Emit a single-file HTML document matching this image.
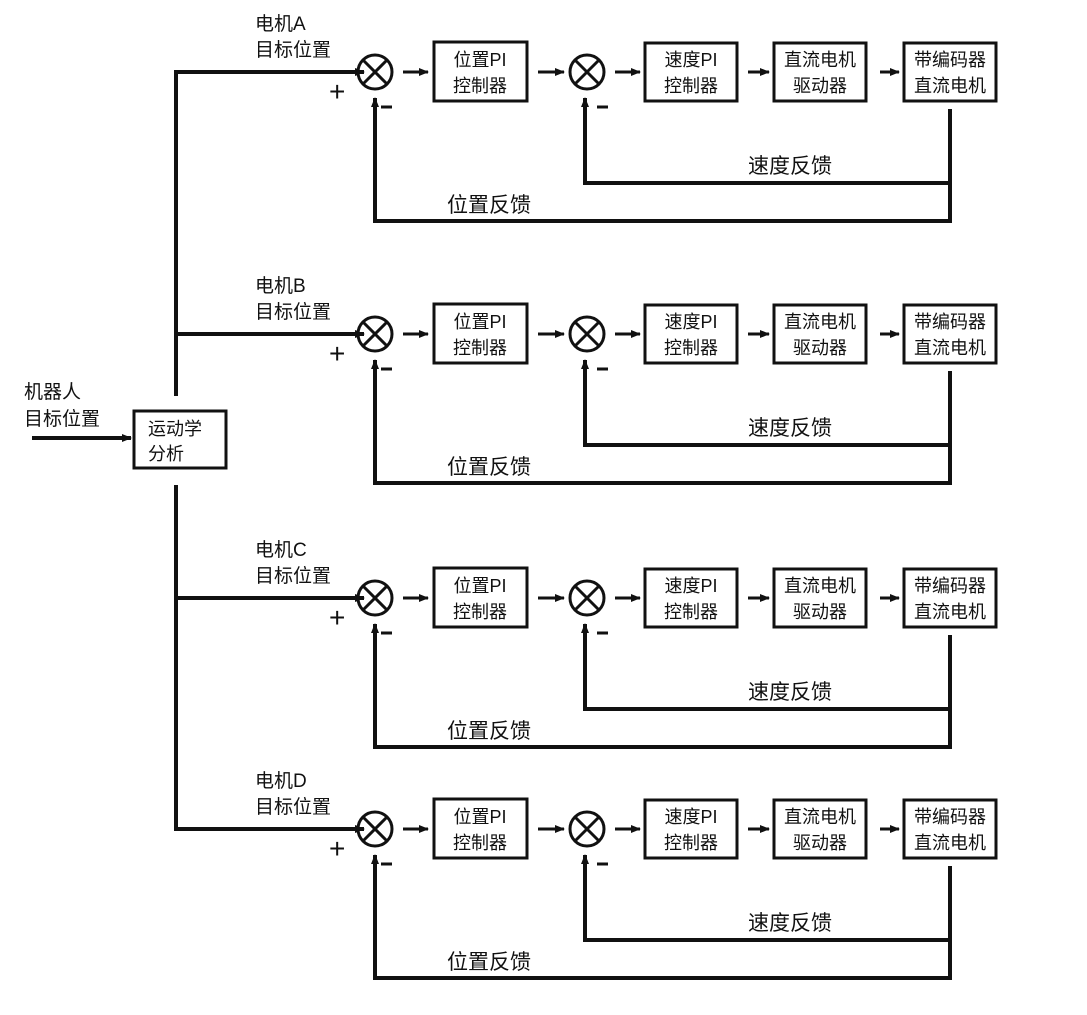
<!DOCTYPE html>
<html><head><meta charset="utf-8"><style>
body{margin:0;background:#fff}
text{font-family:"Liberation Sans","Noto Sans CJK SC",sans-serif;fill:#111}
</style></head><body>
<svg width="1087" height="1010" viewBox="0 0 1087 1010" xmlns="http://www.w3.org/2000/svg">
<defs>
<marker id="ah" markerWidth="10" markerHeight="8" refX="9" refY="4" orient="auto" markerUnits="userSpaceOnUse">
<path d="M0,0 L10,4 L0,8 z" fill="#111"/>
</marker>
<g id="row">
  <line x1="176" y1="0" x2="364" y2="0" stroke="#111" stroke-width="4" marker-end="url(#ah)"/>
  <circle cx="375" cy="0" r="17" fill="none" stroke="#111" stroke-width="3"/>
  <line x1="363" y1="-12" x2="387" y2="12" stroke="#111" stroke-width="3"/>
  <line x1="387" y1="-12" x2="363" y2="12" stroke="#111" stroke-width="3"/>
  <text x="329" y="29" font-size="28">+</text>
  <line x1="381" y1="35" x2="392" y2="35" stroke="#111" stroke-width="3"/>
  <line x1="403" y1="0" x2="428" y2="0" stroke="#111" stroke-width="3" marker-end="url(#ah)"/>
  <rect x="434" y="-30" width="93" height="59" fill="#fff" stroke="#111" stroke-width="3"/>
  <text x="480" y="-6" font-size="18" text-anchor="middle">位置PI</text>
  <text x="480" y="20" font-size="18" text-anchor="middle">控制器</text>
  <line x1="538" y1="0" x2="564" y2="0" stroke="#111" stroke-width="3" marker-end="url(#ah)"/>
  <circle cx="587" cy="0" r="17" fill="none" stroke="#111" stroke-width="3"/>
  <line x1="575" y1="-12" x2="599" y2="12" stroke="#111" stroke-width="3"/>
  <line x1="599" y1="-12" x2="575" y2="12" stroke="#111" stroke-width="3"/>
  <line x1="597" y1="35" x2="608" y2="35" stroke="#111" stroke-width="3"/>
  <line x1="615" y1="0" x2="640" y2="0" stroke="#111" stroke-width="3" marker-end="url(#ah)"/>
  <rect x="645" y="-29" width="92" height="58" fill="#fff" stroke="#111" stroke-width="3"/>
  <text x="691" y="-6" font-size="18" text-anchor="middle">速度PI</text>
  <text x="691" y="20" font-size="18" text-anchor="middle">控制器</text>
  <line x1="748" y1="0" x2="769" y2="0" stroke="#111" stroke-width="3" marker-end="url(#ah)"/>
  <rect x="774" y="-29" width="92" height="58" fill="#fff" stroke="#111" stroke-width="3"/>
  <text x="820" y="-6" font-size="18" text-anchor="middle">直流电机</text>
  <text x="820" y="20" font-size="18" text-anchor="middle">驱动器</text>
  <line x1="880" y1="0" x2="899" y2="0" stroke="#111" stroke-width="3" marker-end="url(#ah)"/>
  <rect x="904" y="-29" width="92" height="58" fill="#fff" stroke="#111" stroke-width="3"/>
  <text x="950" y="-6" font-size="18" text-anchor="middle">带编码器</text>
  <text x="950" y="20" font-size="18" text-anchor="middle">直流电机</text>
  <polyline points="950,37 950,149 375,149 375,26" fill="none" stroke="#111" stroke-width="4" marker-end="url(#ah)"/>
  <polyline points="950,111 585,111 585,26" fill="none" stroke="#111" stroke-width="4" marker-end="url(#ah)"/>
  <text x="790" y="101" font-size="21" text-anchor="middle">速度反馈</text>
  <text x="489" y="140" font-size="21" text-anchor="middle">位置反馈</text>
  <text x="255" y="-16" font-size="19">目标位置</text>
</g>
</defs>
<use href="#row" transform="translate(0,72)"/>
<use href="#row" transform="translate(0,334)"/>
<use href="#row" transform="translate(0,598)"/>
<use href="#row" transform="translate(0,829)"/>
<text x="255" y="30" font-size="19">电机A</text>
<text x="255" y="292" font-size="19">电机B</text>
<text x="255" y="556" font-size="19">电机C</text>
<text x="255" y="787" font-size="19">电机D</text>
<line x1="176" y1="70" x2="176" y2="396" stroke="#111" stroke-width="4"/>
<line x1="176" y1="485" x2="176" y2="831" stroke="#111" stroke-width="4"/>
<rect x="134" y="411" width="92" height="57" fill="#fff" stroke="#111" stroke-width="3"/>
<text x="148" y="435" font-size="18">运动学</text>
<text x="148" y="460" font-size="18">分析</text>
<line x1="32" y1="438" x2="131" y2="438" stroke="#111" stroke-width="4" marker-end="url(#ah)"/>
<text x="24" y="398" font-size="19">机器人</text>
<text x="24" y="425" font-size="19">目标位置</text>
</svg>
</body></html>
